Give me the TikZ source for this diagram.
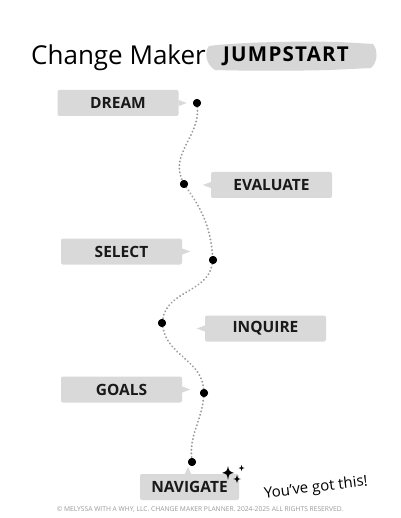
\documentclass[tikz,border=0pt]{standalone}
\usepackage{fontspec}
\setmainfont{Open Sans}
\usetikzlibrary{calc}
\definecolor{boxgray}{HTML}{D9D9D9}
\definecolor{brushgray}{HTML}{D6D6D6}
\definecolor{pathgray}{HTML}{999999}
\definecolor{footgray}{HTML}{9A9A9A}
\begin{document}
\begin{tikzpicture}[x=1pt,y=1pt,
  stepbox/.style={fill=boxgray, rounded corners=2pt, minimum width=121pt, minimum height=26pt,
    inner sep=0pt, font=\fontsize{15.5}{17}\selectfont\bfseries, text=black!90},
  dotnode/.style={circle, fill=black, inner sep=0pt, minimum size=8pt},
  trail/.style={pathgray, line width=2.1pt, line cap=round, dash pattern=on 0.01pt off 3.6pt},
  pointer/.style={fill=boxgray},
  sparkle/.style={fill=black}
]
\useasboundingbox (0,0) rectangle (400,-518);
\fill[white] (0,0) rectangle (400,-518);

% title
\node[anchor=base west, inner sep=0pt, font=\fontsize{26}{29}\selectfont] (title) at (31,-65) {Change Maker};
\fill[brushgray] (209,-46) .. controls (240,-42) and (300,-41) .. (340,-42)
  -- (373,-44) .. controls (378,-50) and (378,-62) .. (371,-68)
  -- (330,-70) .. controls (290,-71) and (250,-71) .. (215,-70)
  .. controls (206,-65) and (204,-52) .. (209,-46) -- cycle;
\node[inner sep=0pt, font=\fontsize{20.5}{23}\selectfont\bfseries\addfontfeature{LetterSpace=6}] (jump) at (286,-56) {JUMPSTART};

% boxes
\node[stepbox] (dream) at (118,-103) {DREAM};
\node[stepbox] (evaluate) at (271.5,-185) {EVALUATE};
\node[stepbox] (select) at (121.5,-251.5) {SELECT};
\node[stepbox] (inquire) at (265.5,-328.5) {INQUIRE};
\node[stepbox] (goals) at (121.5,-389.5) {GOALS};
\node[stepbox, minimum width=99pt] (navigate) at (189.5,-487) {NAVIGATE};

% dots
\node[dotnode] (d1) at (197,-103) {};
\node[dotnode] (d2) at (184,-184) {};
\node[dotnode] (d3) at (213,-260) {};
\node[dotnode] (d4) at (162,-323) {};
\node[dotnode] (d5) at (204,-393) {};
\node[dotnode] (d6) at (192,-462) {};

% pointers
\fill[pointer] (dream.east) ++(0,3) -- ++(8,-3) -- ++(-8,-3) -- cycle;
\fill[pointer] (evaluate.west) ++(0,3) -- ++(-8,-3) -- ++(8,-3) -- cycle;
\fill[pointer] (select.east) ++(0,3) -- ++(8,-3) -- ++(-8,-3) -- cycle;
\fill[pointer] (inquire.west) ++(0,3) -- ++(-8,-3) -- ++(8,-3) -- cycle;
\fill[pointer] (goals.east) ++(0,3) -- ++(8,-3) -- ++(-8,-3) -- cycle;
\fill[pointer] ($(navigate.north)+(-1.5,0)$) ++(-3,0) -- ++(3,7) -- ++(3,-7) -- cycle;

% trail
\draw[trail] (d1) to[out=-85,in=115] (d2);
\draw[trail] (d2) to[out=-55,in=95] (d3);
\draw[trail] (d3) to[out=-100,in=80] (d4);
\draw[trail] (d4) to[out=-80,in=95] (d5);
\draw[trail] (d5) to[out=-95,in=95] (d6);
\node[dotnode] at (d1) {};
\node[dotnode] at (d2) {};
\node[dotnode] at (d3) {};
\node[dotnode] at (d4) {};
\node[dotnode] at (d5) {};
\node[dotnode] at (d6) {};

% sparkles
\fill[sparkle] (228,-466) .. controls (229,-471) .. (234,-473) .. controls (229,-474) .. (228,-480)
  .. controls (227,-474) .. (222,-473) .. controls (227,-471) .. (228,-466) -- cycle;
\fill[sparkle] (241.5,-465) .. controls (242,-467.5) .. (244.5,-468) .. controls (242,-468.5) .. (241.5,-471)
  .. controls (241,-468.5) .. (238.5,-468) .. controls (241,-467.5) .. (241.5,-465) -- cycle;
\fill[sparkle] (237,-475) .. controls (237.6,-478.3) .. (241,-479) .. controls (237.6,-479.7) .. (237,-483)
  .. controls (236.4,-479.7) .. (233,-479) .. controls (236.4,-478.3) .. (237,-475) -- cycle;

% encouragement
\node[rotate=7, inner sep=0pt, font=\fontsize{15}{18}\selectfont] (yg) at (316,-488) {You’ve got this!};

% footer
\node[inner sep=0pt, text=footgray, font=\fontsize{6.7}{8}\selectfont] (foot) at (200,-509) {© MELYSSA WITH A WHY, LLC. CHANGE MAKER PLANNER. 2024-2025 ALL RIGHTS RESERVED.};
\end{tikzpicture}
\end{document}
